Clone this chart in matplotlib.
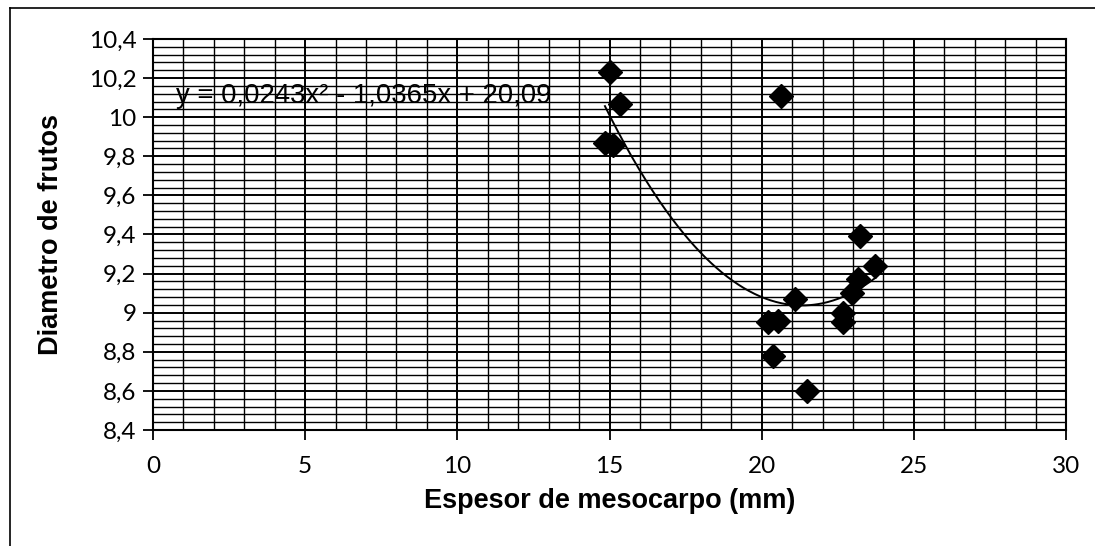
import matplotlib
matplotlib.use("Agg")
import matplotlib.pyplot as plt
import numpy as np
from matplotlib.ticker import MultipleLocator, FuncFormatter
from matplotlib.lines import Line2D

# Data
espesor = [15.02, 15.35, 14.85, 15.12, 20.63, 21.10, 20.21, 20.54, 20.37, 21.48,
           22.67, 22.67, 23.23, 23.73, 23.17, 22.96]
diametro = [10.23, 10.07, 9.87, 9.86, 10.11, 9.07, 8.95, 8.96, 8.78, 8.60,
            9.00, 8.95, 9.39, 9.24, 9.17, 9.10]
# Polynomial trendline coefficients (as displayed)
coef = [0.0243, -1.0365, 20.09]
eq_label = "y = 0,0243x² - 1,0365x + 20,09"
xlabel = "Espesor de mesocarpo (mm)"
ylabel = "Diametro de frutos"

W, H = 1095, 546
fig = plt.figure(figsize=(W / 100, H / 100), dpi=100)
ax = fig.add_axes([153 / W, 1 - 430 / H, (1066 - 153) / W, (430 - 39) / H])

ax.set_xlim(0, 30)
ax.set_ylim(8.4, 10.4)
ax.xaxis.set_major_locator(MultipleLocator(5))
ax.xaxis.set_minor_locator(MultipleLocator(1))
ax.yaxis.set_major_locator(MultipleLocator(0.2))
ax.yaxis.set_minor_locator(MultipleLocator(0.04))

fmt = FuncFormatter(lambda v, p: ("%g" % round(v, 2)).replace(".", ","))
ax.xaxis.set_major_formatter(fmt)
ax.yaxis.set_major_formatter(fmt)

ax.grid(which="minor", color="black", linewidth=1.0)
ax.grid(which="major", color="black", linewidth=1.4)
ax.set_axisbelow(True)
ax.tick_params(which="minor", length=0)
ax.tick_params(which="major", length=7, width=1.3, color="black", direction="out",
               labelsize=17.5)
ax.tick_params(axis="x", pad=12)
ax.tick_params(axis="y", pad=5)
for lab in ax.get_xticklabels() + ax.get_yticklabels():
    lab.set_fontfamily("Lato")
for s in ax.spines.values():
    s.set_linewidth(1.5)
    s.set_color("black")

# trendline over the data range
xs = np.linspace(min(espesor), max(espesor), 200)
ax.plot(xs, np.polyval(coef, xs), color="black", linewidth=1.4, zorder=3)

ax.plot(espesor, diametro, linestyle="none", marker="D", markersize=12,
        color="black", zorder=4)

ax.text(0.75, 10.11, eq_label, fontsize=19.8, family="Liberation Sans",
        va="center", ha="left", zorder=5)

ax.set_xlabel(xlabel, fontsize=19.5, fontweight="bold", family="Liberation Sans", labelpad=8)
ax.set_ylabel(ylabel, fontsize=19.5, fontweight="bold", family="Liberation Sans", labelpad=18)

# outer chart border (top and left visible)
fig.add_artist(Line2D([10 / W, 1.0], [1 - 8 / H, 1 - 8 / H], color="black", lw=1.2,
                      transform=fig.transFigure))
fig.add_artist(Line2D([10 / W, 10 / W], [0.0, 1 - 8 / H], color="black", lw=1.2,
                      transform=fig.transFigure))

fig.savefig("out.png", dpi=100)
